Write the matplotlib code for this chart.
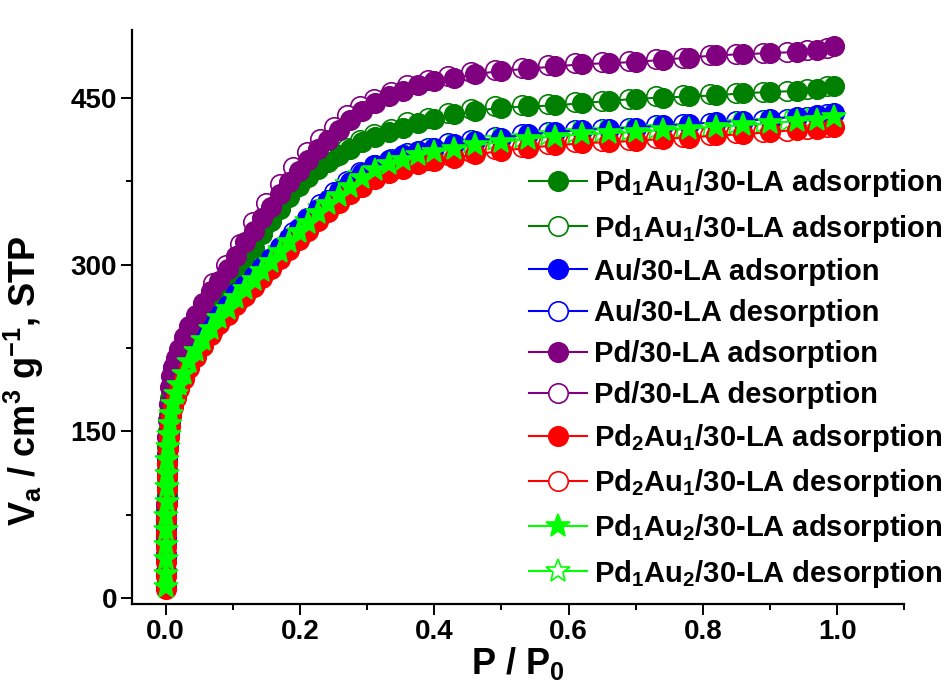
import matplotlib
matplotlib.use('Agg')
import matplotlib.pyplot as plt
from matplotlib.ticker import MultipleLocator, FormatStrFormatter

plt.rcParams['font.family'] = ['Liberation Sans', 'DejaVu Sans']
plt.rcParams['font.weight'] = 'bold'
plt.rcParams['axes.labelweight'] = 'bold'
plt.rcParams['mathtext.fontset'] = 'custom'
plt.rcParams['mathtext.rm'] = 'Liberation Sans:bold'
plt.rcParams['mathtext.it'] = 'Liberation Sans:bold'
plt.rcParams['mathtext.bf'] = 'Liberation Sans:bold'
plt.rcParams['mathtext.default'] = 'bf'

# relative pressure, adsorption branch
p_ads = [0.0001, 0.0002, 0.0003, 0.0005, 0.0007, 0.0009, 0.0012, 0.0015, 0.002, 0.0026,
         0.0034, 0.0045, 0.006, 0.008, 0.011, 0.015, 0.02, 0.027, 0.035, 0.045,
         0.056, 0.068, 0.08, 0.092, 0.105, 0.118, 0.131, 0.144, 0.157, 0.17,
         0.184, 0.198, 0.212, 0.227, 0.242, 0.258, 0.275, 0.293, 0.312, 0.332,
         0.353, 0.376, 0.40, 0.43, 0.46, 0.50, 0.54, 0.58, 0.62, 0.66,
         0.70, 0.74, 0.78, 0.82, 0.86, 0.90, 0.94, 0.97, 0.995]
# relative pressure, desorption branch
p_des = [0.985, 0.955, 0.925, 0.89, 0.85, 0.81, 0.77, 0.73, 0.69, 0.65,
         0.61, 0.57, 0.53, 0.49, 0.455, 0.42, 0.39, 0.36, 0.335, 0.31,
         0.29, 0.27, 0.25, 0.23, 0.21, 0.19, 0.17, 0.15, 0.13, 0.11,
         0.09, 0.07]

pd1au1_ads = [10, 24, 38, 52, 66, 80, 94, 108, 122, 136,
              150, 165, 180, 186, 192, 198, 205, 213, 221, 230,
              240, 251, 263, 275, 289, 302, 315, 327, 339, 350,
              361, 371, 379, 386, 392, 398, 404, 410, 415, 419,
              423, 427, 431, 435, 438, 441, 442, 443, 445, 447,
              449, 450, 451, 452, 454, 455, 456, 458, 460]
pd1au1_des = [460, 458, 456, 455, 454, 453, 452, 451, 449, 447,
              446, 444, 443, 442, 440, 436, 432, 428, 422, 417,
              412, 405, 397, 389, 380, 368, 353, 336, 318, 298,
              280, 261]

au_ads = [12, 24, 37, 50, 63, 76, 89, 102, 114, 126,
          138, 149, 159, 168, 177, 186, 195, 205, 215, 225,
          235, 245, 255, 264, 274, 282, 290, 298, 306, 315,
          324, 333, 341, 350, 358, 366, 374, 382, 389, 394,
          398, 402, 405, 408, 411, 414, 417, 419, 421, 422,
          423, 425, 426, 428, 429, 431, 433, 434, 436]
au_des = [435, 433, 431, 430, 429, 427, 426, 425, 423, 422,
          421, 419, 417, 415, 412, 409, 405, 400, 395, 389,
          383, 375, 365, 354, 342, 329, 316, 302, 289, 275,
          260, 246]

pd_ads = [10, 25, 40, 55, 70, 85, 100, 115, 130, 145,
          160, 175, 190, 200, 208, 216, 224, 235, 245, 255,
          265, 276, 285, 296, 308, 320, 330, 342, 352, 363,
          374, 384, 394, 404, 412, 421, 430, 438, 445, 451,
          456, 461, 465, 468, 471, 474, 476, 478, 480, 481,
          482, 484, 486, 488, 489, 490, 491, 493, 496]
pd_des = [495, 493, 491, 490, 489, 488, 486, 485, 483, 482,
          481, 479, 477, 475, 473, 469, 466, 461, 455, 449,
          442, 434, 424, 413, 401, 388, 372, 355, 338, 318,
          300, 283]

pd2au1_ads = [8, 20, 33, 46, 59, 72, 85, 98, 110, 122,
              134, 145, 155, 164, 172, 180, 188, 197, 207, 217,
              227, 237, 247, 255, 264, 272, 280, 288, 296, 305,
              313, 322, 330, 339, 347, 355, 363, 370, 377, 382,
              386, 390, 393, 396, 399, 402, 405, 407, 409, 410,
              411, 413, 414, 416, 417, 419, 421, 422, 424]
pd2au1_des = [424, 422, 420, 419, 418, 416, 415, 414, 412, 411,
              410, 408, 406, 404, 401, 398, 394, 390, 385, 379,
              373, 366, 356, 346, 334, 322, 309, 296, 283, 269,
              255, 241]

pd1au2_ads = [10, 22, 35, 48, 61, 74, 87, 100, 112, 124,
              136, 147, 157, 166, 175, 184, 192, 202, 212, 222,
              232, 242, 252, 260, 270, 278, 286, 294, 302, 311,
              320, 329, 337, 346, 354, 362, 370, 378, 385, 390,
              394, 398, 401, 404, 407, 410, 413, 415, 417, 418,
              419, 421, 422, 424, 425, 427, 429, 430, 433]
pd1au2_des = [432, 430, 428, 427, 426, 424, 423, 422, 420, 419,
              418, 416, 414, 412, 409, 406, 402, 397, 392, 386,
              380, 372, 362, 351, 339, 326, 313, 299, 286, 272,
              257, 243]

series = [
    (p_ads, pd1au1_ads, 'Pd$_1$Au$_1$/30-LA adsorption', '#008000', 'o', True),
    (p_des, pd1au1_des, 'Pd$_1$Au$_1$/30-LA adsorption', '#008000', 'o', False),
    (p_ads, au_ads, 'Au/30-LA adsorption', '#0000FF', 'o', True),
    (p_des, au_des, 'Au/30-LA desorption', '#0000FF', 'o', False),
    (p_ads, pd_ads, 'Pd/30-LA adsorption', '#800080', 'o', True),
    (p_des, pd_des, 'Pd/30-LA desorption', '#800080', 'o', False),
    (p_ads, pd2au1_ads, 'Pd$_2$Au$_1$/30-LA adsorption', '#FF0000', 'o', True),
    (p_des, pd2au1_des, 'Pd$_2$Au$_1$/30-LA desorption', '#FF0000', 'o', False),
    (p_ads, pd1au2_ads, 'Pd$_1$Au$_2$/30-LA adsorption', '#00FF00', '*', True),
    (p_des, pd1au2_des, 'Pd$_1$Au$_2$/30-LA desorption', '#00FF00', '*', False),
]

fig = plt.figure(figsize=(9.44, 6.91), dpi=100)
ax = fig.add_axes([0.140, 0.126, 0.818, 0.831])

for i, (x, y, label, color, marker, filled) in enumerate(series):
    size = 18 if marker == '*' else 14
    # hollow desorption points sit underneath the filled adsorption ones
    z = 3 + i * 0.1 if filled else 2 + i * 0.1
    ax.plot(x, y, '-', color=color, lw=1.5, marker=marker, markersize=size,
            markerfacecolor=color if filled else 'white',
            markeredgecolor=color, markeredgewidth=1.2, label=label, zorder=z)

ax.set_xlim(-0.05, 1.1)
ax.set_ylim(-5, 511)
ax.xaxis.set_major_locator(MultipleLocator(0.2))
ax.xaxis.set_minor_locator(MultipleLocator(0.1))
ax.yaxis.set_major_locator(MultipleLocator(150))
ax.yaxis.set_minor_locator(MultipleLocator(75))
ax.xaxis.set_major_formatter(FormatStrFormatter('%.1f'))

for side in ['top', 'right']:
    ax.spines[side].set_visible(False)
for side in ['left', 'bottom']:
    ax.spines[side].set_linewidth(1.6)
ax.tick_params(which='major', direction='out', length=8, width=1.4, labelsize=20, pad=3)
ax.tick_params(which='minor', direction='out', length=4.5, width=1.4)
for lbl in ax.get_xticklabels() + ax.get_yticklabels():
    lbl.set_fontweight('bold')

ax.set_xlabel('P / P$_0$', fontsize=26, fontweight='bold', labelpad=0)
ax.set_ylabel('V$_a$ / cm$^3$ g$^{-1}$, STP', fontsize=26, fontweight='bold')
ax.yaxis.set_label_coords(-0.112, 0.389)

ax.legend(loc='lower right', bbox_to_anchor=(1.05, 0.025), frameon=False,
          fontsize=21, labelspacing=0.45, handlelength=2.0, handletextpad=0.25,
          borderpad=0, borderaxespad=0, numpoints=1)

fig.savefig('out.png', dpi=100)
